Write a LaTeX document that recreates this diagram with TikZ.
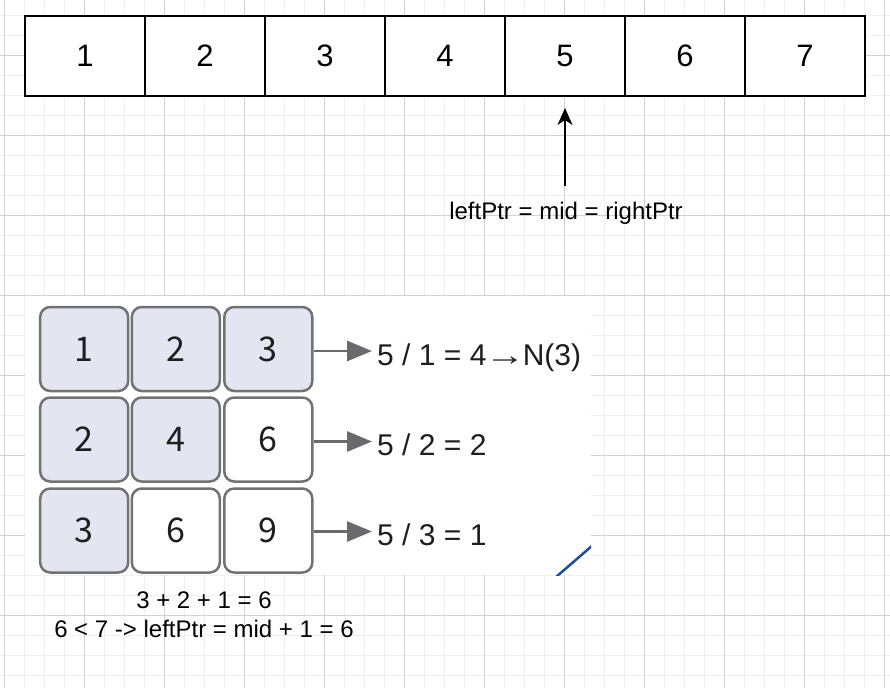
\documentclass[tikz,border=0pt]{standalone}
\usepackage{fontspec}
\usepackage{graphicx}
\setmainfont{Liberation Sans}
\newfontfamily\cjkdig{Noto Sans CJK SC}
\usetikzlibrary{arrows.meta}
\definecolor{gridminor}{HTML}{F0F0F0}
\definecolor{gridmajor}{HTML}{D2D2D2}
\definecolor{boxline}{HTML}{727272}
\definecolor{boxfill}{HTML}{E3E5F0}
\definecolor{arrgray}{HTML}{6A6A6E}
\definecolor{txtdark}{HTML}{1E1E1E}
\definecolor{bluestroke}{HTML}{1F4E96}
\begin{document}
\begin{tikzpicture}[x=1pt,y=-1pt,
  cell/.style={draw=black,line width=2pt,fill=white,minimum width=120pt,minimum height=80pt,inner sep=0pt,font=\fontsize{31}{36}\selectfont},
  tile/.style={draw=boxline,line width=2.5pt,rounded corners=10pt,minimum width=88pt,minimum height=84pt,inner sep=0pt,font=\cjkdig\fontsize{34}{40}\selectfont,text=txtdark},
  hl/.style={tile,fill=boxfill},
  plain/.style={tile,fill=white},
  eq/.style={anchor=base west,inner sep=0pt,font=\fontsize{30}{34}\selectfont,text=txtdark},
  note/.style={font=\fontsize{24}{29}\selectfont,inner sep=0pt,anchor=base},
  grayarr/.style={draw=arrgray,line width=2.8pt,-{Triangle[length=25pt,width=20pt]}},
  ptrarr/.style={draw=black,line width=2pt,-{Stealth[length=17pt,width=15pt,inset=5pt]}},
  minorline/.style={draw=gridminor,line width=1pt},
  majorline/.style={draw=gridmajor,line width=1pt},
]
\useasboundingbox (0,0) rectangle (890,688);
\fill[white] (0,0) rectangle (890,688);
% grid
\foreach \i in {0,...,44} \draw[minorline] ({4.3+20*\i},0) -- ({4.3+20*\i},688);
\foreach \j in {0,...,34} \draw[minorline] (0,{15+20*\j}) -- (890,{15+20*\j});
\foreach \i in {0,...,11} \draw[majorline] ({4.3+80*\i},0) -- ({4.3+80*\i},688);
\foreach \j in {0,...,7} \draw[majorline] (0,{55+80*\j}) -- (890,{55+80*\j});

% top array
\foreach \k in {1,...,7} \node[cell] (c\k) at ({25+120*\k-60},56) {\k};

% pointer
\coordinate (ptail) at (565,186);
\draw[ptrarr,shorten >=11pt] (ptail) -- (c5.south);
\node[note] (lbl) at (566,219.5) {leftPtr = mid = rightPtr};

% pasted image area
\fill[white] (25,296) rectangle (591,575);
\begin{scope}
\clip (25,296) rectangle (591,575);
\draw[bluestroke,line width=2.5pt] (556,577) -- (593,545);
\end{scope}

% tiles
\node[hl] (b11) at (84.2,349) {1};
\node[hl] (b12) at (175.8,349) {2};
\node[hl] (b13) at (268.3,349) {3};
\node[hl] (b21) at (84.2,439.5) {2};
\node[hl] (b22) at (175.8,439.5) {4};
\node[plain] (b23) at (268.3,439.5) {6};
\node[hl] (b31) at (84.2,530.5) {3};
\node[plain] (b32) at (175.8,530.5) {6};
\node[plain] (b33) at (268.3,530.5) {9};

\coordinate (t1) at (372,351);
\coordinate (t2) at (372,441.5);
\coordinate (t3) at (372,531.5);
\draw[grayarr] (b13.east |- t1) -- (t1);
\draw[grayarr] (b23.east |- t2) -- (t2);
\draw[grayarr] (b33.east |- t3) -- (t3);

\node[eq] (r1) at (377,365) {5 / 1 = 4\hspace{-0.055em}\scalebox{1.35}[1]{→}\hspace{-0.085em}N(3)};
\node[eq] (r2) at (377,455) {5 / 2 = 2};
\node[eq] (r3) at (377,545) {5 / 3 = 1};

% bottom notes
\node[note] (s1) at (204,608) {3 + 2 + 1 = 6};
\node[note] (s2) at (204,637) {6 < 7 -> leftPtr = mid + 1 = 6};
\end{tikzpicture}
\end{document}
